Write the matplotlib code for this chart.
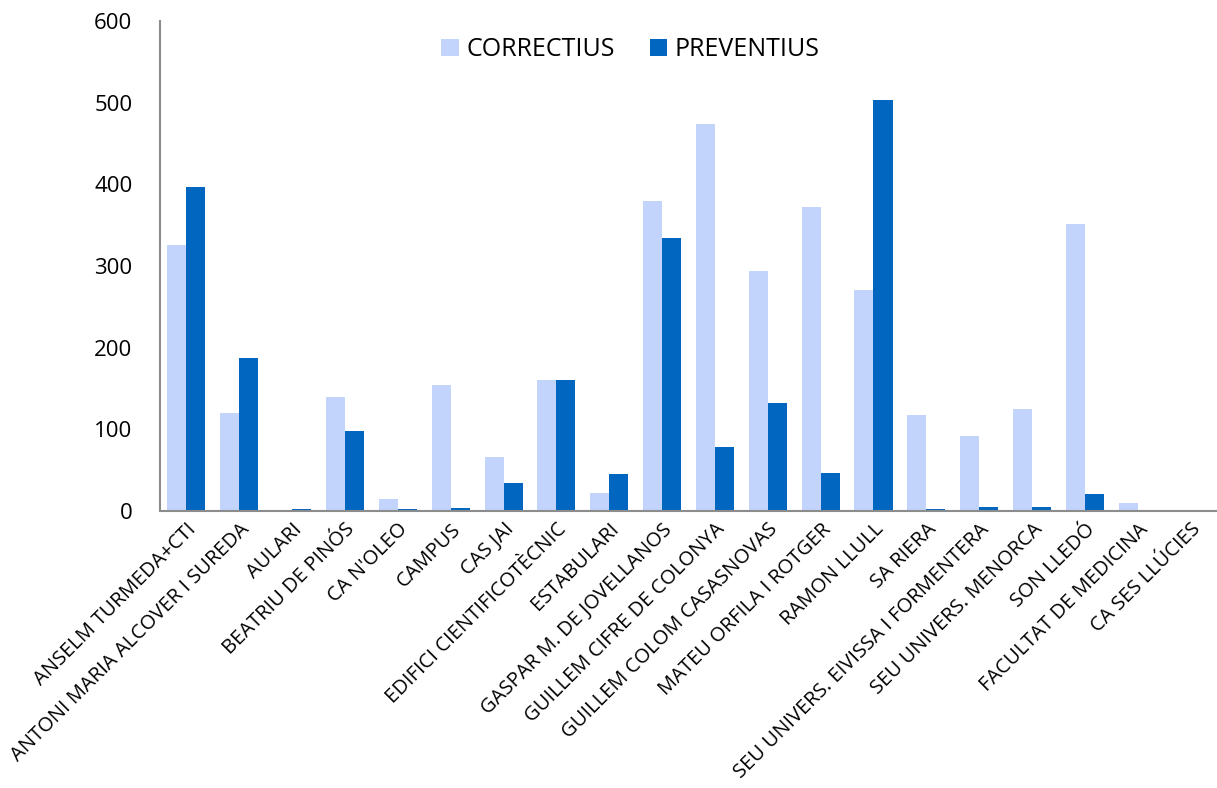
import numpy as np
import matplotlib.pyplot as plt

plt.rcParams['font.family'] = ['Open Sans', 'DejaVu Sans']

categories = ["ANSELM TURMEDA+CTI", "ANTONI MARIA ALCOVER I SUREDA", "AULARI",
              "BEATRIU DE PINÓS", "CA N'OLEO", "CAMPUS", "CAS JAI",
              "EDIFICI CIENTIFICOTÈCNIC", "ESTABULARI", "GASPAR M. DE JOVELLANOS",
              "GUILLEM CIFRE DE COLONYA", "GUILLEM COLOM CASASNOVAS",
              "MATEU ORFILA I ROTGER", "RAMON LLULL", "SA RIERA",
              "SEU UNIVERS. EIVISSA I FORMENTERA", "SEU UNIVERS. MENORCA",
              "SON LLEDÓ", "FACULTAT DE MEDICINA", "CA SES LLÚCIES"]
correctius = [326, 120, 0, 140, 15, 154, 66, 161, 22, 380, 474, 294, 372, 271, 118, 92, 125, 351, 10, 0]
preventius = [397, 187, 2, 98, 2, 4, 34, 161, 45, 334, 78, 132, 47, 503, 2, 5, 5, 21, 0, 0]

fig = plt.figure(figsize=(12.17, 7.88), dpi=100)
ax = fig.add_axes([0.1315, 0.3515, 0.8685, 0.6218])

x = np.arange(len(categories))
w = 0.36
ax.bar(x - w / 2, correctius, w, color="#C2D4FB", label="CORRECTIUS")
ax.bar(x + w / 2, preventius, w, color="#0066C0", label="PREVENTIUS")

ax.set_xlim(-0.5, len(categories) - 0.5)
ax.set_ylim(0, 600)
ax.set_yticks(np.arange(0, 601, 100))
ax.tick_params(axis='y', length=0, labelsize=16, pad=20)
ax.tick_params(axis='x', length=0, pad=6)
ax.set_xticks(x)
ax.set_xticklabels(categories, rotation=45, ha='right', rotation_mode='anchor', fontsize=14.5)

for s in ['top', 'right']:
    ax.spines[s].set_visible(False)
for s in ['left', 'bottom']:
    ax.spines[s].set_color("#8c8c8c")
    ax.spines[s].set_linewidth(1.5)

ax.legend(loc='upper center', bbox_to_anchor=(0.445, 1.013), ncol=2, frameon=False,
          fontsize=18, handlelength=0.7, handleheight=0.7, columnspacing=1.4, handletextpad=0.3)

fig.savefig("out.png", dpi=100)
